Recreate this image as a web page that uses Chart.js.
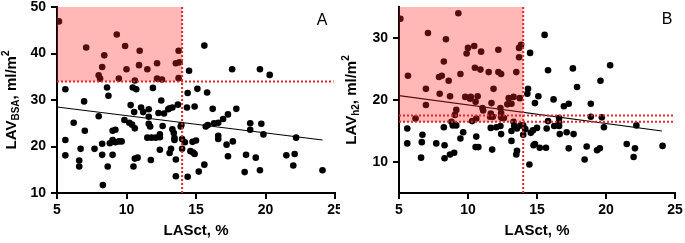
<!DOCTYPE html>
<html><head><meta charset="utf-8">
<script src="https://cdn.jsdelivr.net/npm/chart.js@4/dist/chart.umd.min.js"></script>
<style>
html,body{margin:0;padding:0;background:#fff;}
#wrap{position:relative;width:685px;height:243px;overflow:hidden;}
#ca{position:absolute;left:0;top:0;}
#cb{position:absolute;left:340px;top:0;}
</style></head><body>
<div id="wrap"><canvas id="ca" width="340" height="243"></canvas><canvas id="cb" width="345" height="243"></canvas></div>
<script>
// Panel A: LASct (%) vs LAV_BSA (ml/m2)
const lasctA = [5.14,5.6,5.6,5.6,6.2,6.6,6.6,6.7,7.0,6.95,7.1,7.7,8.0,8.0,8.1,8.25,8.4,8.25,8.25,8.3,8.6,8.7,8.65,8.8,9.0,9.0,9.2,9.0,9.3,9.2,9.45,9.45,9.65,9.9,10.0,9.85,10.2,10.3,10.4,10.6,10.45,10.7,10.55,10.6,10.6,10.8,10.5,10.9,10.95,11.05,11.2,11.5,11.6,11.6,11.6,11.7,11.5,11.8,11.75,11.9,12.1,12.2,12.2,12.3,12.4,12.4,12.5,12.4,12.55,12.6,12.7,13.0,13.1,13.3,13.1,13.2,13.3,13.4,13.45,13.45,13.55,13.55,13.55,13.7,13.75,13.8,13.75,13.9,13.95,14.0,14.0,14.2,14.5,14.4,14.35,14.4,14.6,14.8,14.9,14.75,14.9,15.0,15.1,15.2,15.6,15.6,15.8,15.7,15.85,16.2,16.3,16.6,16.6,16.6,16.95,17.2,17.3,17.3,17.6,17.65,17.9,18.5,18.6,18.9,18.9,19.3,19.6,19.7,19.6,19.85,20.3,21.5,22.1,22.0,22.2,24.1];
const lavBsaA = [46.9,32.3,21.4,18.1,25.1,17.0,15.7,19.5,23.4,29.7,41.3,19.5,26.5,35.3,34.6,37.1,39.6,20.6,18.2,11.7,32.7,30.9,15.7,20.7,21.4,23.4,23.6,18.2,44.1,20.9,34.6,21.1,21.1,41.6,36.6,25.7,25.1,28.9,24.7,34.2,32.7,32.3,27.4,23.9,17.4,17.6,15.7,37.5,40.6,28.4,27.4,36.6,28.0,26.4,24.9,24.3,21.9,21.9,17.1,32.6,21.9,37.9,34.6,27.2,22.6,22.0,29.9,19.3,34.4,24.4,27.1,28.0,28.2,28.4,18.6,19.5,23.7,22.9,21.8,21.4,37.9,17.2,13.6,29.0,40.6,38.1,34.7,24.3,24.6,21.6,19.5,20.9,36.3,31.5,28.4,13.5,19.0,18.7,18.4,21.0,28.6,21.3,32.4,14.6,41.7,16.1,31.6,24.3,24.6,28.1,25.0,22.3,21.6,25.1,25.9,20.4,26.9,17.9,36.6,21.1,28.1,14.5,18.2,25.0,23.6,17.6,36.6,24.9,14.9,22.6,35.4,18.1,18.4,15.9,21.9,14.9];
// Panel B: LASct (%) vs LAV_h2 (ml/m2)
const lasctB = [5.1,5.65,5.6,5.6,6.2,6.6,6.7,6.65,6.95,6.95,7.1,7.7,7.95,7.9,8.1,8.25,8.4,8.25,8.3,8.3,8.6,8.7,8.7,8.8,9.0,9.05,9.15,8.9,9.15,9.3,9.45,9.45,9.65,9.8,9.9,10.0,10.15,10.2,10.3,10.45,10.5,10.55,10.6,10.6,10.55,10.75,10.7,10.9,10.95,11.1,11.05,11.5,11.65,11.65,11.7,11.75,11.85,11.6,11.8,12.2,12.2,12.4,12.35,12.4,12.5,12.4,12.05,12.35,12.4,12.6,12.85,12.95,13.15,13.3,13.15,13.15,13.3,13.35,13.55,13.5,13.5,13.7,13.7,13.85,13.75,13.55,13.8,14.0,14.0,14.15,14.3,14.35,14.5,14.45,14.55,14.7,14.75,14.85,14.85,15.0,15.1,15.2,15.55,15.65,15.7,15.8,15.8,16.2,16.25,16.6,16.6,16.65,16.6,16.95,17.15,17.3,17.3,17.6,17.65,17.9,18.45,18.6,18.9,18.9,19.35,19.55,19.6,19.7,19.85,20.3,21.5,22.1,22.0,22.2,24.1];
const lavH2B = [33.1,23.9,15.4,13.0,17.0,10.7,14.4,13.2,19.2,21.8,30.8,13.0,21.0,23.7,23.9,26.2,29.8,15.6,12.7,10.6,23.1,20.6,11.2,16.5,11.5,17.6,18.4,15.9,15.9,34.0,24.2,13.8,14.8,20.5,27.5,28.4,20.2,20.5,16.6,28.7,25.2,19.7,17.0,14.1,12.4,12.4,20.6,24.9,27.8,18.3,18.7,24.5,17.8,15.5,19.5,12.0,21.8,17.3,17.3,28.1,24.5,24.2,18.7,17.9,17.1,17.2,15.6,15.8,14.5,17.1,19.3,20.3,19.4,20.5,15.0,13.4,16.5,15.8,11.8,11.2,24.5,26.9,28.4,28.9,20.3,15.4,15.9,15.9,14.4,15.3,21.0,21.8,27.6,9.6,14.7,15.1,12.7,12.9,19.5,15.5,20.6,12.3,30.5,12.3,15.4,24.8,16.6,20.1,15.8,17.1,16.4,14.5,15.8,19.0,14.8,19.4,12.2,25.1,14.5,22.1,10.4,12.5,19.4,17.3,11.9,12.2,23.1,17.2,15.6,25.6,12.9,12.2,10.8,15.9,12.6];
// Regression lines (endpoints)
const fitA_x = [5, 24.1], fitA_y = [28.5, 21.4];
const fitB_x = [5, 24.05], fitB_y = [20.7, 15.0];
// Thresholds
const cutX = [14];
const cutYA = [34];
const cutYB = [17.5, 16.5];
const ticksXA = [5,10,15,20,25];
const ticksYA = [10,20,30,40,50];
const ticksYB = [10,20,30];

const FONT = "'Liberation Sans', Arial, sans-serif";
function pts(xs, ys){ return xs.map((x,i)=>({x:x, y:ys[i]})); }

function makeOverlay(cfg){
  return {
    id:'overlay'+cfg.label,
    afterDatasetsDraw(chart){
      const ctx = chart.ctx, xs = chart.scales.x, ys = chart.scales.y;
      const ca = chart.chartArea;
      ctx.save();
      // pink region
      const x0 = xs.getPixelForValue(xs.min), x1 = xs.getPixelForValue(cfg.cutX);
      const yTop = ys.getPixelForValue(ys.max), yBot = ys.getPixelForValue(cfg.regionLow);
      ctx.fillStyle = 'rgba(255,40,30,0.33)';
      ctx.fillRect(x0, yTop, x1-x0, yBot-yTop);
      // dotted lines
      ctx.strokeStyle = '#e3262c';
      ctx.lineWidth = 2;
      ctx.setLineDash([2,2]);
      ctx.beginPath();
      ctx.moveTo(x1, yTop); ctx.lineTo(x1, ys.getPixelForValue(ys.min));
      cfg.cutY.forEach(v=>{
        const yy = ys.getPixelForValue(v);
        ctx.moveTo(x0, yy); ctx.lineTo(xs.getPixelForValue(cfg.hEnd), yy);
      });
      ctx.stroke();
      ctx.setLineDash([]);
      // panel letter
      ctx.fillStyle = '#000';
      ctx.font = '16px ' + FONT;
      ctx.textAlign = 'center'; ctx.textBaseline = 'middle';
      ctx.fillText(cfg.label, cfg.labelX, cfg.labelY);
      // y title with subscript & superscript
      ctx.translate(cfg.titleX, (ca.top+ca.bottom)/2);
      ctx.rotate(-Math.PI/2);
      const parts = [
        {t:'LAV', f:'bold 15px '+FONT, dy:0},
        {t:cfg.sub, f:'bold 10px '+FONT, dy:4},
        {t:', ml/m', f:'bold 15px '+FONT, dy:0},
        {t:'2', f:'bold 10px '+FONT, dy:-6}
      ];
      let w = 0;
      parts.forEach(p=>{ ctx.font = p.f; p.w = ctx.measureText(p.t).width; w += p.w; });
      let cx = -w/2;
      ctx.textAlign = 'left'; ctx.textBaseline = 'middle';
      parts.forEach(p=>{ ctx.font = p.f; ctx.fillText(p.t, cx, p.dy); cx += p.w; });
      ctx.restore();
    }
  };
}

function makeChart(id, xs, ys, fx, fy, yMin, yMax, yTicks, yWidth, padRight, ov){
  return new Chart(document.getElementById(id), {
    type:'scatter',
    data:{datasets:[
      {data:pts(xs,ys), pointRadius:3.3, pointHoverRadius:3.3, backgroundColor:'#000', borderWidth:0, order:2},
      {type:'line', data:pts(fx,fy), borderColor:'#000', borderWidth:1.2, pointRadius:0, fill:false, order:1}
    ]},
    options:{
      responsive:false, animation:false, devicePixelRatio:1,
      layout:{padding:{top:7, right:padRight, left:0, bottom:0}},
      plugins:{legend:{display:false}, tooltip:{enabled:false}},
      scales:{
        x:{type:'linear', min:5, max:25,
          afterBuildTicks(s){ s.ticks = ticksXA.map(v=>({value:v})); },
          afterFit(s){ s.height = 50; s.paddingLeft = 0; s.paddingRight = 0; },
          grid:{display:true, drawOnChartArea:false, drawTicks:true, tickLength:6, color:'#000', lineWidth:2},
          border:{display:true, color:'#000', width:2},
          ticks:{color:'#000', padding:3, font:{family:FONT, size:14, weight:'bold'}, maxRotation:0, autoSkip:false},
          title:{display:true, text:'LASct, %', color:'#000', font:{family:FONT, size:15, weight:'bold'}, padding:{top:0, bottom:3}}
        },
        y:{type:'linear', min:yMin, max:yMax,
          afterBuildTicks(s){ s.ticks = yTicks.map(v=>({value:v})); },
          afterFit(s){ s.width = yWidth; s.paddingTop = 0; s.paddingBottom = 0; },
          grid:{display:true, drawOnChartArea:false, drawTicks:true, tickLength:6, color:'#000', lineWidth:2},
          border:{display:true, color:'#000', width:2},
          ticks:{color:'#000', padding:5, font:{family:FONT, size:14, weight:'bold'}, autoSkip:false}
        }
      }
    },
    plugins:[makeOverlay(ov)]
  });
}

makeChart('ca', lasctA, lavBsaA, fitA_x, fitA_y, 10, 50, ticksYA, 57, 5,
  {label:'A', cutX:cutX[0], regionLow:cutYA[0], cutY:cutYA, hEnd:24.9, labelX:322, labelY:21, titleX:12, sub:'BSA'});
makeChart('cb', lasctB, lavH2B, fitB_x, fitB_y, 5, 35, ticksYB, 59, 10,
  {label:'B', cutX:cutX[0], regionLow:cutYB[1], cutY:cutYB, hEnd:24.9, labelX:327, labelY:20, titleX:12, sub:'h2'});
</script>
</body></html>
